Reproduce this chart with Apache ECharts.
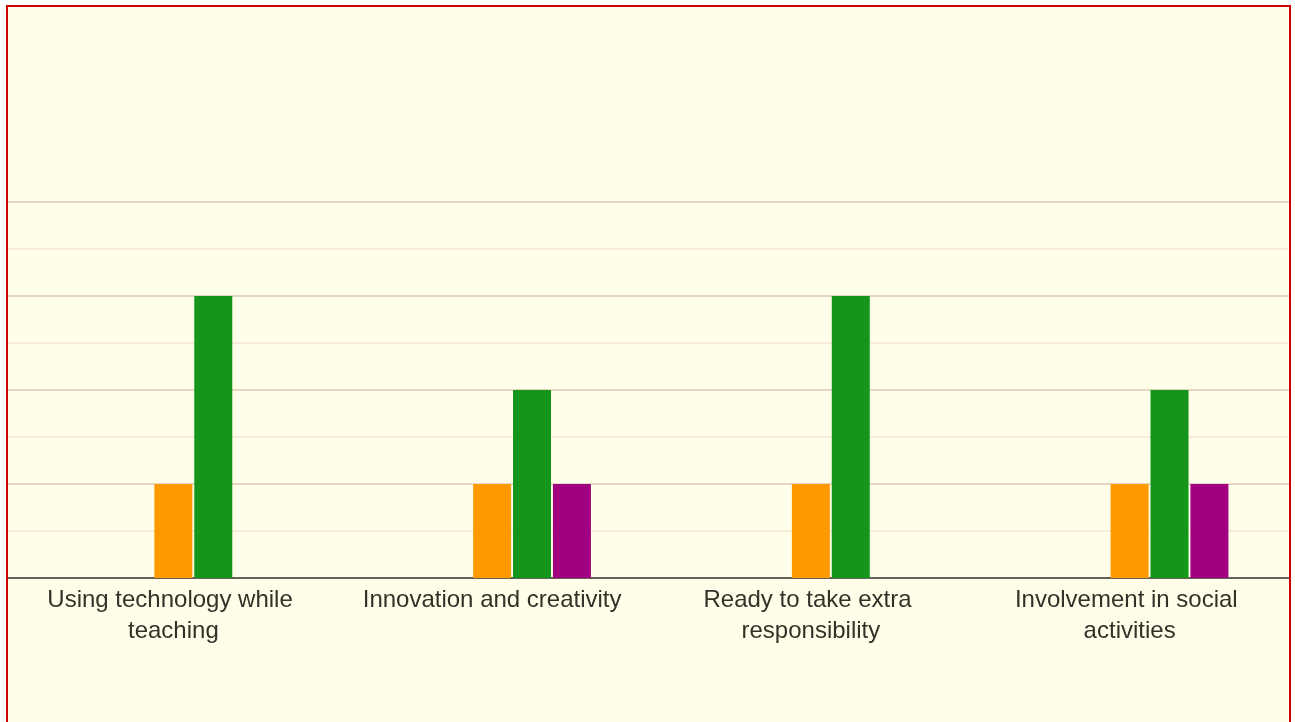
<!DOCTYPE html>
<html>
<head>
<meta charset="utf-8">
<script src="https://cdn.jsdelivr.net/npm/echarts@6/dist/echarts.min.js"></script>
<style>
  body { margin: 0; background: #ffffff; }
  #box {
    position: absolute;
    left: 6px;
    top: 5px;
    width: 1281px;
    height: 740px;
    border: 2px solid #cc0000;
    background: #fffee9;
  }
  #chart { width: 1281px; height: 740px; }
</style>
</head>
<body>
<div id="box"><div id="chart"></div></div>
<script>
// categories on the x axis
var categories = [
  "Using technology while teaching",
  "Innovation and creativity",
  "Ready to take extra responsibility",
  "Involvement in social activities"
];
// five answer groups, only the last three have bars
var seriesNames = ["Strongly Disagree", "Disagree", "Neutral", "Agree", "Strongly Agree"];
var stronglyDisagree = [0, 0, 0, 0];
var disagree = [0, 0, 0, 0];
var neutral = [1, 1, 1, 1];
var agree = [3, 2, 3, 2];
var stronglyAgree = [0, 1, 0, 1];
var colors = ["#3366cc", "#dc3912", "#ff9900", "#139619", "#a0007f"];

var values = [stronglyDisagree, disagree, neutral, agree, stronglyAgree];

var chart = echarts.init(document.getElementById("chart"));

var series = values.map(function (v, i) {
  return {
    name: seriesNames[i],
    type: "bar",
    xAxisIndex: 1,
    yAxisIndex: 1,
    barWidth: 38,
    barGap: "5%",
    itemStyle: { color: colors[i] },
    data: v.map(function (d) { return d === 0 ? "-" : d; })
  };
});

chart.setOption({
  animation: false,
  backgroundColor: "transparent",
  grid: [
    // full width grid, only used for the gridlines and the base line
    { left: 0, right: 0, top: 195, bottom: 169 },
    // grid holding the bars
    { left: 6, right: 0, top: 195, bottom: 169 }
  ],
  xAxis: [
    {
      type: "category",
      gridIndex: 0,
      data: categories,
      axisLine: { show: true, lineStyle: { color: "#3d3a35", width: 1.5 } },
      axisTick: { show: false },
      axisLabel: { show: false },
      splitLine: { show: false }
    },
    {
      type: "category",
      gridIndex: 1,
      data: categories,
      axisLine: { show: false },
      axisTick: { show: false },
      axisLabel: {
        margin: 7,
        color: "#35302a",
        fontFamily: "Liberation Sans, Arial, sans-serif",
        fontSize: 24,
        lineHeight: 31,
        width: 290,
        overflow: "break",
        interval: 0
      }
    }
  ],
  yAxis: [
    {
      type: "value",
      gridIndex: 0,
      min: 0,
      max: 4,
      interval: 1,
      axisLine: { show: false },
      axisTick: { show: false },
      axisLabel: { show: false },
      splitLine: { show: true, lineStyle: { color: "#dccab5", width: 1.5 } },
      minorTick: { show: false, splitNumber: 2 },
      minorSplitLine: { show: true, lineStyle: { color: "#f7e6d3", width: 1.5 } }
    },
    {
      type: "value",
      gridIndex: 1,
      min: 0,
      max: 4,
      interval: 1,
      axisLine: { show: false },
      axisTick: { show: false },
      axisLabel: { show: false },
      splitLine: { show: false }
    }
  ],
  series: series
});
</script>
</body>
</html>
